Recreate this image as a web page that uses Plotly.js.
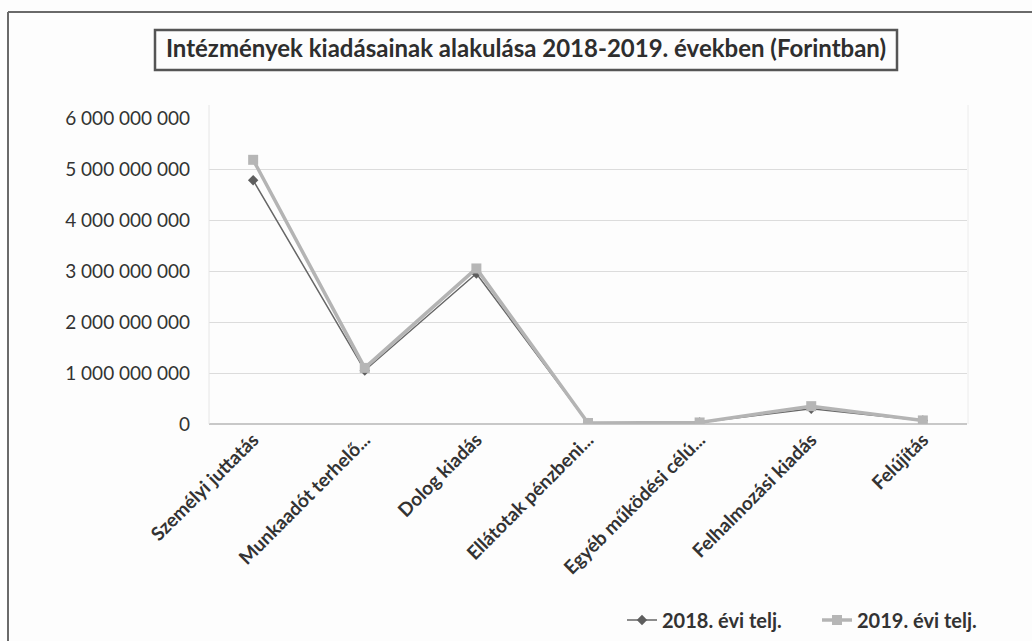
<!DOCTYPE html>
<html>
<head>
<meta charset="utf-8">
<script src="https://cdn.plot.ly/plotly-3.0.1.min.js"></script>
<style>html,body{margin:0;padding:0;background:#fdfdfd;}#chart{width:1032px;height:641px;}</style>
</head>
<body>
<div id="chart"></div>
<script>
const categories = ["Személyi juttatás", "Munkaadót terhelő...", "Dolog kiadás", "Ellátotak pénzbeni...", "Egyéb működési célú...", "Felhalmozási kiadás", "Felújítás"];
const values2018 = [4780000000, 1050000000, 2950000000, 20000000, 30000000, 300000000, 70000000];
const values2019 = [5180000000, 1100000000, 3050000000, 20000000, 30000000, 350000000, 70000000];
const seriesNames = ["2018. évi telj.", "2019. évi telj."];
const yTicks = [0, 1000000000, 2000000000, 3000000000, 4000000000, 5000000000, 6000000000];
const titleText = "Intézmények kiadásainak alakulása 2018-2019. években (Forintban)";

const W = 1032, H = 641;
const px = x => x / W;
const py = y => (H - y) / H;

const traces = [
  {x: categories, y: values2018, name: seriesNames[0], type: "scatter", mode: "lines+markers",
   line: {color: "#666666", width: 1.5}, marker: {symbol: "diamond", size: 8, color: "#5e5e5e"}},
  {x: categories, y: values2019, name: seriesNames[1], type: "scatter", mode: "lines+markers",
   line: {color: "#b4b4b4", width: 3.5}, marker: {symbol: "square", size: 10, color: "#b6b6b6"}}
];

const layout = {
  width: W, height: H,
  margin: {l: 0, r: 0, t: 0, b: 0},
  paper_bgcolor: "#fdfdfd", plot_bgcolor: "rgba(0,0,0,0)",
  separators: ". ",
  font: {family: "Lato, 'Open Sans', sans-serif", color: "#333"},
  title: {text: titleText, x: px(526), xanchor: "center", y: py(49), yanchor: "middle", automargin: false,
          font: {family: "Lato, sans-serif", size: 24, color: "#2e2e2e", weight: "bold"}},
  xaxis: {domain: [px(209), px(967)], type: "category", automargin: false,
          tickangle: -45, showgrid: false, zeroline: false, showline: false, ticks: "",
          tickfont: {family: "Lato, sans-serif", size: 19, color: "#333", weight: "bold"}},
  yaxis: {domain: [py(424), py(118)], range: [0, 6000000000], automargin: false,
          tickvals: yTicks, tickformat: ",d", showgrid: true, gridcolor: "#dcdcdc", gridwidth: 1,
          zeroline: true, zerolinecolor: "#c8c8c8", zerolinewidth: 1.5, showline: false, ticks: "",
          ticklabelstandoff: 18,
          tickfont: {family: "Lato, sans-serif", size: 19, color: "#333"}},
  showlegend: true,
  legend: {orientation: "h", x: px(622), xanchor: "left", y: py(620), yanchor: "middle",
           bgcolor: "rgba(0,0,0,0)", font: {family: "Lato, sans-serif", size: 20, color: "#333", weight: "bold"},
           entrywidth: 150, entrywidthmode: "pixels", itemwidth: 30, tracegroupgap: 0},
  shapes: [
    {type: "rect", xref: "paper", yref: "paper", x0: px(155), x1: px(897), y0: py(30), y1: py(70),
     line: {color: "#555", width: 2.5}, fillcolor: "rgba(0,0,0,0)"},
    {type: "line", xref: "paper", yref: "paper", x0: px(8), x1: px(1032), y0: py(12), y1: py(12),
     line: {color: "#6a6a6a", width: 2}},
    {type: "line", xref: "paper", yref: "paper", x0: px(8), x1: px(8), y0: py(12), y1: py(641),
     line: {color: "#6a6a6a", width: 2}},
    {type: "line", xref: "paper", yref: "paper", x0: px(209), x1: px(209), y0: py(424), y1: py(105),
     line: {color: "#e6e6e6", width: 1}},
    {type: "line", xref: "paper", yref: "paper", x0: px(968), x1: px(968), y0: py(424), y1: py(105),
     line: {color: "#ececec", width: 1}}
  ]
};

Plotly.newPlot("chart", traces, layout, {displayModeBar: false, staticPlot: true});
</script>
</body>
</html>
